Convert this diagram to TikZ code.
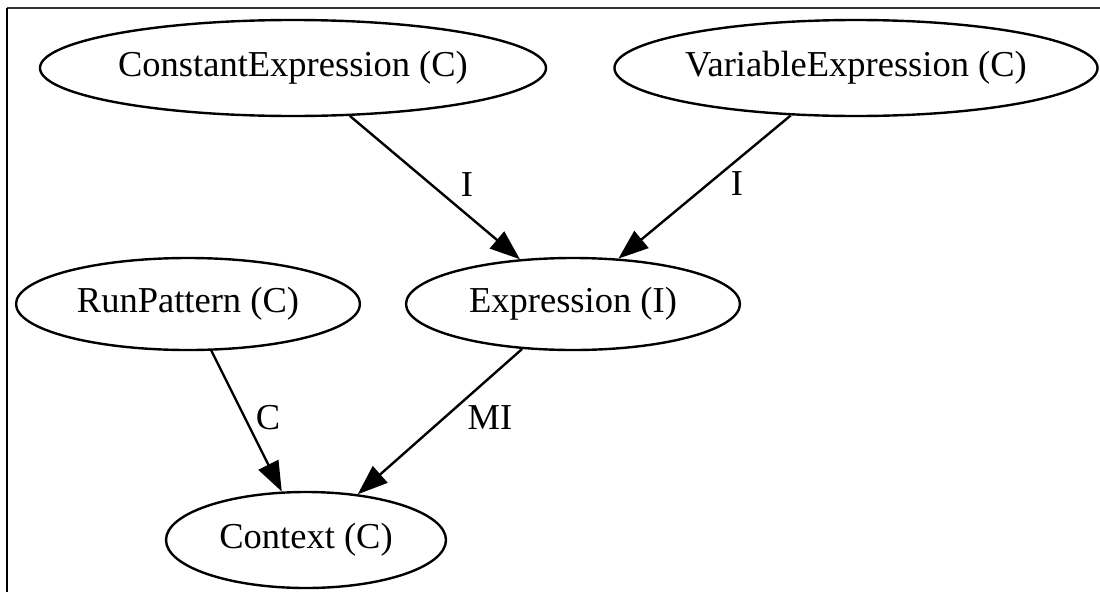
\documentclass[tikz,border=0pt]{standalone}
\usepackage{fontspec}
\setmainfont{Liberation Serif}
\usetikzlibrary{shapes.geometric,arrows.meta}
\begin{document}
\begin{tikzpicture}[x=1pt,y=-1pt,
  cls/.style={draw=black, line width=2.4pt, ellipse, inner sep=0pt,
              font=\fontsize{36.5}{44}\selectfont},
  dep/.style={draw=black, line width=2.4pt,
              -{Triangle[length=30pt,width=22pt]}},
  lbl/.style={font=\fontsize{36.5}{44}\selectfont, inner sep=0pt}]
\useasboundingbox (0,0) rectangle (1100,592);
% frame edges
\draw[line width=2pt, black!80] (7,8) -- (1100,8);
\draw[line width=2pt] (7,8) -- (7,592);

% classes
\node[cls, minimum width=506pt, minimum height=96pt] (ce) at (293,68) {ConstantExpression (C)};
\node[cls, minimum width=466pt, minimum height=96pt] (ve) at (856,68) {VariableExpression (C)};
\node[cls, minimum width=344pt, minimum height=92pt] (rp) at (188,304) {RunPattern (C)};
\node[cls, minimum width=334pt, minimum height=92pt] (ex) at (573,304) {Expression (I)};
\node[cls, minimum width=280pt, minimum height=96pt] (cx) at (306,540) {Context (C)};

% relations
\draw[dep] (ce) -- (ex);
\draw[dep] (ve.216) -- (ex.45);
\draw[dep] (rp) -- (cx);
\draw[dep] (ex) -- (cx);

% relation labels
\node[lbl] (l1) at (467,185) {I};
\node[lbl] (l2) at (737,184) {I};
\node[lbl] (l3) at (268,418) {C};
\node[lbl] (l4) at (490,418) {MI};
\end{tikzpicture}
\end{document}
